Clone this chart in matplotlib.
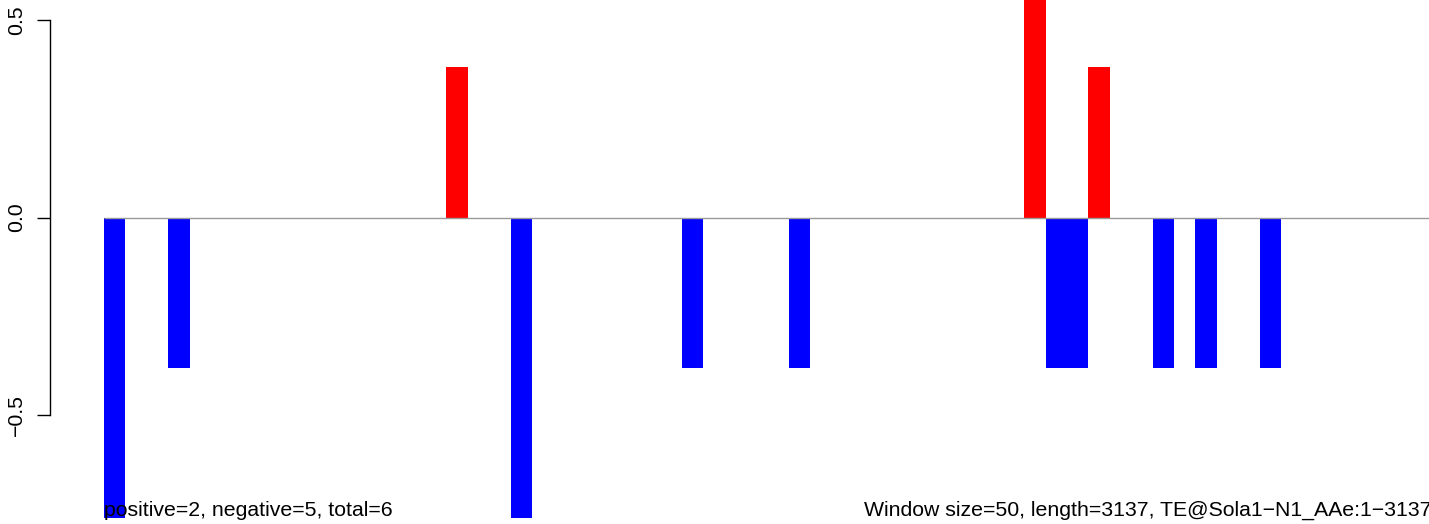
import matplotlib
matplotlib.use('Agg')
import matplotlib.pyplot as plt
import numpy as np

# sliding window scores (window size 50, length 3137 -> 63 windows)
scores = [
    -0.76, 0, 0, -0.38, 0, 0, 0, 0, 0, 0,
    0, 0, 0, 0, 0, 0, 0.38, 0, 0, -0.76,
    0, 0, 0, 0, 0, 0, 0, -0.38, 0, 0,
    0, 0, -0.38, 0, 0, 0, 0, 0, 0, 0,
    0, 0, 0, 0.76, -0.38, -0.38, 0.38, 0, 0, -0.38,
    0, -0.38, 0, 0, -0.38, 0, 0, 0, 0, 0,
    0, 0, 0,
]
yticks = [-0.5, 0.0, 0.5]
ytick_labels = ["\u22120.5", "0.0", "0.5"]
left_text = "positive=2, negative=5, total=6"
right_text = "Window size=50, length=3137, TE@Sola1\u2212N1_AAe:1\u22123137"

plt.rcParams['font.family'] = ['Liberation Sans', 'DejaVu Sans']

W, H = 1429, 524
fig = plt.figure(figsize=(W / 100, H / 100), dpi=100)
ax = fig.add_axes([0, 0, 1, 1])
ax.patch.set_visible(False)

bw = 21.4  # pixels per bar
x0 = 104   # left edge of first bar
ax.set_xlim(-x0 / bw, (W - x0) / bw)
ax.set_ylim(-(H - 217.5) / 395.3, 217.5 / 395.3)

vals = np.array(scores)
idx = np.arange(len(vals))
colors = ['red' if v > 0 else 'blue' for v in vals]
ax.bar(idx, vals, width=1.0, align='edge', color=colors, linewidth=0)
ax.hlines(0, 0, len(vals), color='#999999', lw=1.0, zorder=3)

for s in ['top', 'right', 'bottom']:
    ax.spines[s].set_visible(False)
ax.spines['left'].set_position(('data', (50 - x0) / bw))
ax.spines['left'].set_bounds(-0.5, 0.5)
ax.spines['left'].set_linewidth(1.0)
ax.set_xticks([])
ax.set_yticks(yticks)
ax.set_yticklabels(ytick_labels, rotation=90, va='center', fontsize=15.3)
ax.tick_params(axis='y', direction='out', length=9.5, width=1.0, pad=7.5)

fig.text(x0 / W, 1 - 516 / H, left_text, ha='left', va='baseline', fontsize=15.3)
fig.text(1431 / W, 1 - 516 / H, right_text, ha='right', va='baseline', fontsize=15.3)

fig.savefig("out.png", dpi=100)
